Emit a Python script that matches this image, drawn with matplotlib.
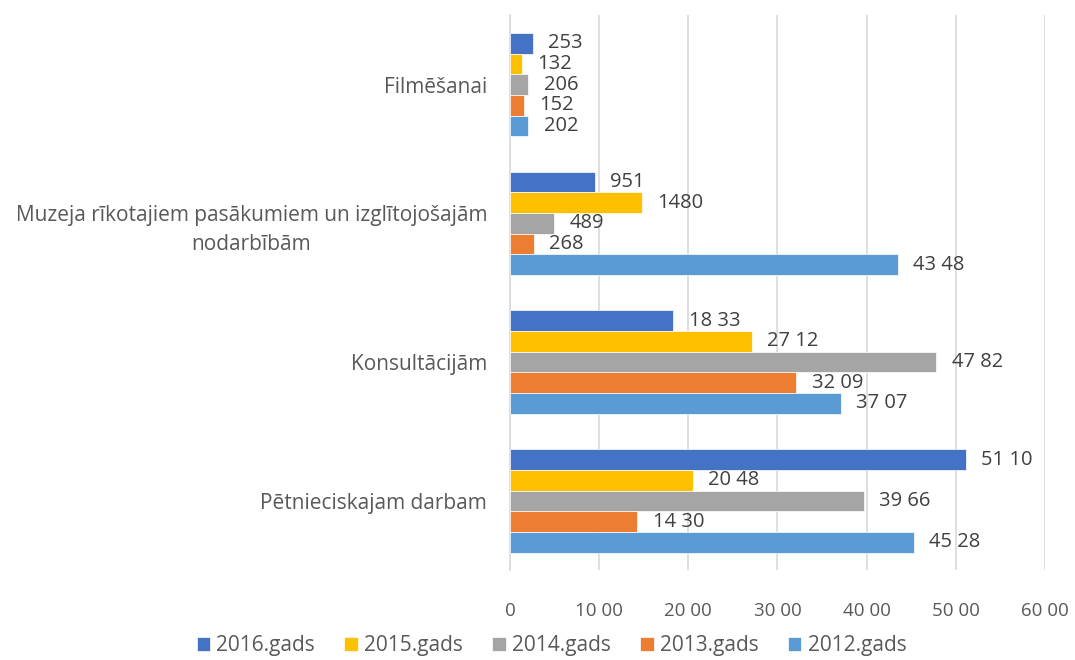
import numpy as np
import matplotlib.pyplot as plt
from matplotlib.ticker import FuncFormatter

categories = ['Pētnieciskajam darbam', 'Konsultācijām',
              'Muzeja rīkotajiem pasākumiem un izglītojošajām\nnodarbībām',
              'Filmēšanai']
series = ['2016.gads', '2015.gads', '2014.gads', '2013.gads', '2012.gads']
values = {
    '2016.gads': [5110, 1833, 951, 253],
    '2015.gads': [2048, 2712, 1480, 132],
    '2014.gads': [3966, 4782, 489, 206],
    '2013.gads': [1430, 3209, 268, 152],
    '2012.gads': [4528, 3707, 4348, 202],
}
# data labels as they are printed on the chart
label_text = {
    '2016.gads': ['51 10', '18 33', '951', '253'],
    '2015.gads': ['20 48', '27 12', '1480', '132'],
    '2014.gads': ['39 66', '47 82', '489', '206'],
    '2013.gads': ['14 30', '32 09', '268', '152'],
    '2012.gads': ['45 28', '37 07', '43 48', '202'],
}
colors = ['#4472C4', '#FFC000', '#A5A5A5', '#ED7D31', '#5B9BD5']


def fmt(v, pos=None):
    v = int(round(v))
    if v >= 1000:
        return f"{v // 100} {v % 100:02d}"
    return str(v)


plt.rcParams['font.family'] = ['Open Sans', 'DejaVu Sans']

fig = plt.figure(figsize=(10.75, 6.6), dpi=100)
ax = fig.add_axes([0.4744, 0.136, 0.4977, 0.841])

y = np.arange(len(categories))
h = 0.149
for i, s in enumerate(series):
    off = (2 - i) * h
    bars = ax.barh(y + off, values[s], height=h, color=colors[i],
                   edgecolor='white', linewidth=0.5, label=s, zorder=3)
    for b, t in zip(bars, label_text[s]):
        ax.text(b.get_width() + 175, b.get_y() + h / 2, t,
                va='center', ha='left', fontsize=14.5, color='#404040')

ax.set_xlim(0, 6000)
ax.set_ylim(-0.5, 3.5)
ax.set_xticks(np.arange(0, 6001, 1000))
ax.xaxis.set_major_formatter(FuncFormatter(fmt))
ax.set_yticks(y)
ax.set_yticklabels(categories, ha='right', multialignment='center')
for lbl in ax.get_yticklabels():
    lbl.set_linespacing(1.5)
ax.tick_params(axis='y', length=0, pad=16.5, labelsize=15, labelcolor='#595959')
ax.tick_params(axis='x', length=0, pad=23, labelsize=13.5, labelcolor='#595959')
ax.grid(axis='x', color='#D9D9D9', linewidth=1.2, zorder=0)
for sp in ['top', 'right', 'bottom']:
    ax.spines[sp].set_visible(False)
ax.spines['left'].set_color('#D9D9D9')
ax.spines['left'].set_linewidth(1.2)

handles, labels = ax.get_legend_handles_labels()
fig.legend(handles, labels, loc='center', bbox_to_anchor=(0.513, 0.022),
           ncol=5, frameon=False, fontsize=15, handlelength=0.65,
           handleheight=0.65, handletextpad=0.3, columnspacing=1.4,
           labelcolor='#595959', borderpad=0)

fig.savefig('out.png', dpi=100)
